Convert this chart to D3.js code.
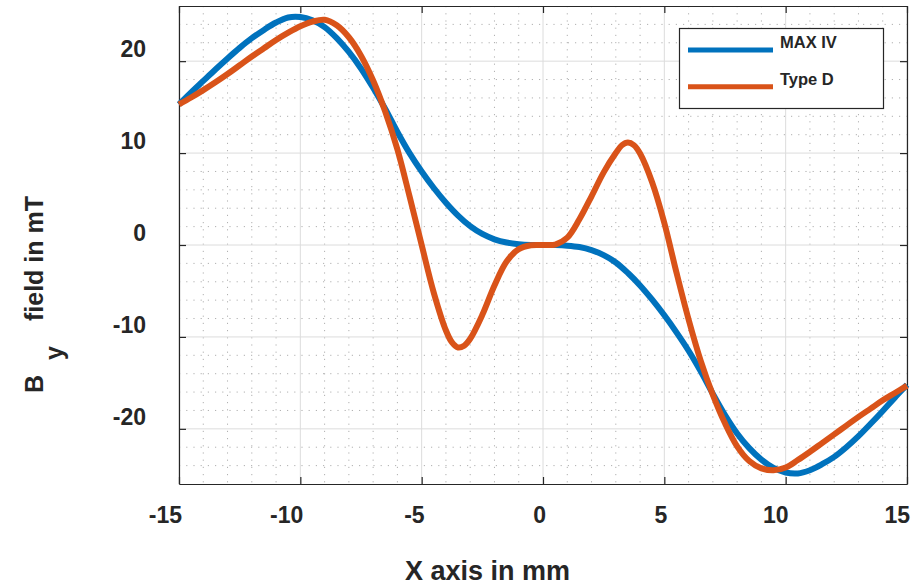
<!DOCTYPE html>
<html><head><meta charset="utf-8">
<script src="https://cdn.jsdelivr.net/npm/d3@7"></script>
<style>
body{margin:0;background:#fff}
svg text{font-family:"Liberation Sans",Arial,Helvetica,sans-serif;font-weight:bold;fill:#262626}
</style>
</head><body><svg id="chart" width="915" height="585"></svg>
<script>
// ---- data ----
const maxIVx = [-15,-14.5,-14,-13.5,-13,-12.5,-12,-11.5,-11,-10.5,-10,-9.5,-9,-8.5,-8,-7.5,-7,-6.5,-6,-5.5,-5,-4.5,-4,-3.5,-3,-2.5,-2,-1.5,-1,-0.5,0,0.5,1,1.5,2,2.5,3,3.5,4,4.5,5,5.5,6,6.5,7,7.5,8,8.5,9,9.5,10,10.5,11,11.5,12,12.5,13,13.5,14,14.5,15];
const maxIVy = [15.3,16.6,17.85,19.1,20.3,21.45,22.5,23.4,24.2,24.75,24.8,24.45,23.7,22.5,21.0,19.2,17.1,14.8,12.3,10.0,8.0,6.2,4.6,3.2,2.05,1.2,0.62,0.27,0.09,0.01,0,-0.01,-0.07,-0.22,-0.55,-1.1,-1.9,-3.05,-4.4,-5.95,-7.65,-9.5,-11.5,-13.75,-16.2,-18.5,-20.5,-22.1,-23.35,-24.25,-24.75,-24.85,-24.5,-23.85,-23.05,-22.0,-20.8,-19.45,-18.05,-16.6,-15.2];
const typeDx = [-15,-14.5,-14,-13.5,-13,-12.5,-12,-11.5,-11,-10.5,-10,-9.5,-9,-8.5,-8,-7.5,-7,-6.5,-6,-5.5,-5,-4.5,-4,-3.75,-3.5,-3.25,-3,-2.5,-2,-1.5,-1,-0.5,0,0.5,1,1.5,2,2.5,3,3.25,3.5,3.75,4,4.5,5,5.5,6,6.5,7,7.5,8,8.5,9,9.5,10,10.5,11,11.5,12,12.5,13,13.5,14,14.5,15];
const typeDy = [15.3,16.05,16.85,17.7,18.6,19.55,20.5,21.4,22.3,23.1,23.8,24.3,24.5,23.9,22.6,20.6,17.9,14.5,10.4,5.3,0.0,-5.2,-9.3,-10.6,-11.15,-10.95,-10.2,-7.6,-4.4,-1.8,-0.45,-0.03,0,0.05,0.8,2.8,5.3,7.9,10.0,10.85,11.15,10.85,9.95,6.8,2.4,-3.0,-8.1,-12.6,-16.3,-19.4,-21.9,-23.5,-24.3,-24.5,-24.2,-23.4,-22.5,-21.55,-20.6,-19.65,-18.7,-17.8,-16.9,-16.1,-15.3];
const seriesNames = ["MAX IV", "Type D"];
const xTicks = [-15,-10,-5,0,5,10,15];
const yTicks = [-20,-10,0,10,20];
const xMinor = [-14,-13,-12,-11,-9,-8,-7,-6,-4,-3,-2,-1,1,2,3,4,6,7,8,9,11,12,13,14];
const yMinor = [-24,-22,-18,-16,-14,-12,-8,-6,-4,-2,2,4,6,8,12,14,16,18,22,24];
const xDomain = [-15, 15];
const yDomain = [-26, 26];

// ---- layout ----
const L = 179, R = 907, T = 6, B = 484;
const colors = ["#0072BD", "#D95319"];
const svg = d3.select("#chart");
const x = d3.scaleLinear().domain(xDomain).range([L, R]);
const y = d3.scaleLinear().domain(yDomain).range([B, T]);

svg.append("rect").attr("x",0).attr("y",0).attr("width",915).attr("height",585).attr("fill","#fff");

const grid = svg.append("g");
grid.selectAll(".mx").data(xMinor).join("line")
  .attr("x1", d => x(d)).attr("x2", d => x(d)).attr("y1", T).attr("y2", B)
  .attr("stroke", "#b0b0b0").attr("stroke-width", 1).attr("stroke-dasharray", "1.2,6");
grid.selectAll(".my").data(yMinor).join("line")
  .attr("y1", d => y(d)).attr("y2", d => y(d)).attr("x1", L).attr("x2", R)
  .attr("stroke", "#b0b0b0").attr("stroke-width", 1).attr("stroke-dasharray", "1.2,6");
grid.selectAll(".gx").data(xTicks).join("line")
  .attr("x1", d => x(d)).attr("x2", d => x(d)).attr("y1", T).attr("y2", B)
  .attr("stroke", "#dcdcdc").attr("stroke-width", 1);
grid.selectAll(".gy").data(yTicks).join("line")
  .attr("y1", d => y(d)).attr("y2", d => y(d)).attr("x1", L).attr("x2", R)
  .attr("stroke", "#dcdcdc").attr("stroke-width", 1);

const tickLen = 7;
const axB = svg.append("g").attr("transform", `translate(0,${B})`)
  .call(d3.axisBottom(x).tickValues(xTicks).tickSizeInner(-tickLen).tickSizeOuter(0).tickFormat(""));
const axT = svg.append("g").attr("transform", `translate(0,${T})`)
  .call(d3.axisTop(x).tickValues(xTicks).tickSizeInner(-tickLen).tickSizeOuter(0).tickFormat(""));
const axLft = svg.append("g").attr("transform", `translate(${L},0)`)
  .call(d3.axisLeft(y).tickValues(yTicks).tickSizeInner(-tickLen).tickSizeOuter(0).tickFormat(""));
const axRt = svg.append("g").attr("transform", `translate(${R},0)`)
  .call(d3.axisRight(y).tickValues(yTicks).tickSizeInner(-tickLen).tickSizeOuter(0).tickFormat(""));
[axB, axT, axLft, axRt].forEach(a => {
  a.selectAll("path.domain").attr("stroke", "#262626").attr("stroke-width", 1.2);
  a.selectAll(".tick line").attr("stroke", "#262626").attr("stroke-width", 1.2);
});

svg.append("g").selectAll("text").data(xTicks).join("text")
  .attr("x", d => x(d) + 3).attr("y", 523).attr("text-anchor", "end")
  .attr("font-size", 23).text(d => d);
svg.append("g").selectAll("text").data(yTicks).join("text")
  .attr("x", 146).attr("y", d => y(d) - 4).attr("text-anchor", "end")
  .attr("font-size", 23).text(d => d);

const line = d3.line().x(d => x(d[0])).y(d => y(d[1])).curve(d3.curveCatmullRom.alpha(0.5));
const series = [[maxIVx, maxIVy], [typeDx, typeDy]];
series.forEach(([xs, ys], i) => {
  svg.append("path").attr("d", line(xs.map((v, j) => [v, ys[j]]))).attr("fill", "none")
    .attr("stroke", colors[i]).attr("stroke-width", 6)
    .attr("stroke-linejoin", "round").attr("stroke-linecap", "butt");
});

svg.append("text").attr("x", 570).attr("y", 580).attr("text-anchor", "end")
  .attr("font-size", 27).text("X axis in mm");
const yt = svg.append("text").attr("transform", "translate(43,393) rotate(-90)")
  .attr("font-size", 25);
yt.append("tspan").attr("x", 0).attr("y", 0).text("B");
yt.append("tspan").attr("dx", 15).attr("dy", 20).text("y");
yt.append("tspan").attr("dx", 25).attr("dy", -20).text("field in mT");

const lg = svg.append("g");
lg.append("rect").attr("x", 679.5).attr("y", 28.5).attr("width", 204).attr("height", 80)
  .attr("fill", "#fff").attr("stroke", "#262626").attr("stroke-width", 1.2);
const legY = [50, 86.7];
seriesNames.forEach((n, i) => {
  lg.append("line").attr("x1", 688).attr("x2", 773).attr("y1", legY[i]).attr("y2", legY[i])
    .attr("stroke", colors[i]).attr("stroke-width", 5);
  lg.append("text").attr("x", 780).attr("y", legY[i] - 2).attr("font-size", 16.5).text(n);
});
</script>
</body></html>
